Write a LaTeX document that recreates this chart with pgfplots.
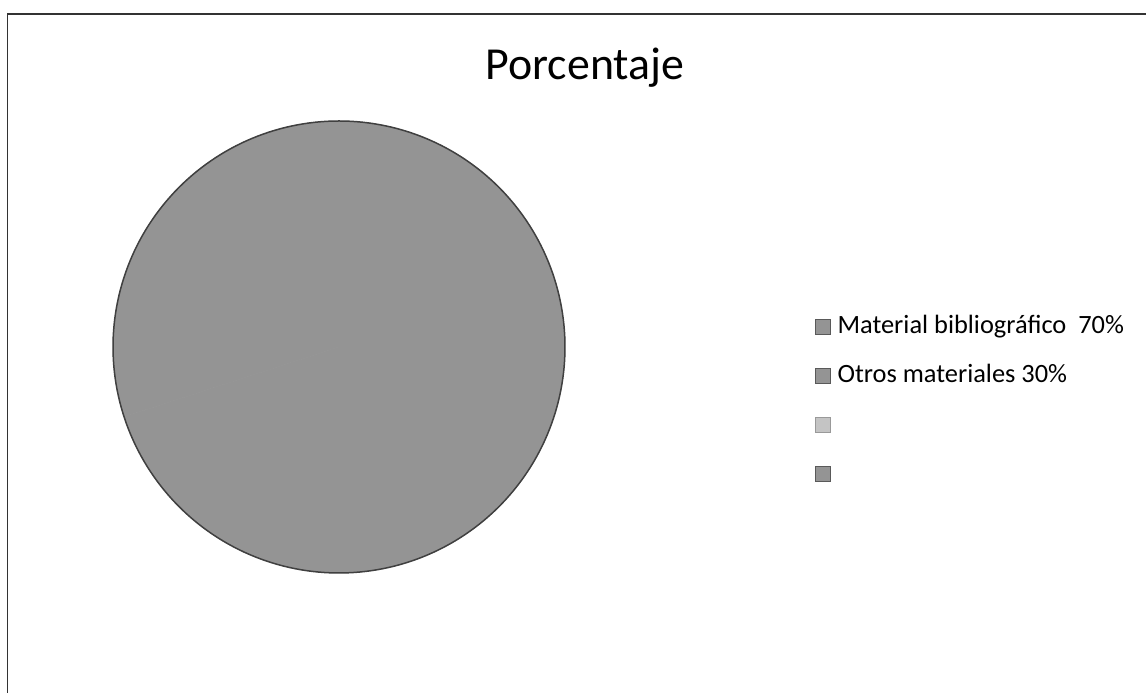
\documentclass[border=0pt]{standalone}
\usepackage{fontspec}
\setmainfont{Carlito}
\usepackage{pgfplots}
\usepackage{pgfplotstable}
\pgfplotsset{compat=1.18}
\definecolor{piegray}{RGB}{148,148,148}
\pgfplotstableread{
value
70
30
}\piedata
\begin{document}
\pgfplotstablegetelem{0}{value}\of\piedata\edef\va{\pgfplotsretval}%
\pgfplotstablegetelem{1}{value}\of\piedata\edef\vb{\pgfplotsretval}%
\pgfmathsetmacro\aA{90-3.6*\va}%
\pgfmathsetmacro\aB{\aA-3.6*\vb}%
\begin{tikzpicture}[x=1bp,y=1bp]
\useasboundingbox (0,0) rectangle (1146,693);
\fill[white] (0,0) rectangle (1146,693);
\draw[line width=1.5bp, black!80] (7.5,0) -- (7.5,679) -- (1146,679);
\node[font=\fontsize{46}{50}\selectfont, anchor=base, inner sep=0pt] at (585,613) {Porcentaje};
\begin{axis}[at={(339bp,346bp)}, anchor=center, scale only axis, width=452bp, height=452bp,
  xmin=-1, xmax=1, ymin=-1, ymax=1, hide axis, clip=false,
  legend style={at={(1.553,0.575)}, anchor=north west, draw=none, fill=none, inner sep=0pt,
    font=\fontsize{26.5}{31}\selectfont, row sep=23bp, cells={anchor=west},
    nodes={inner sep=0pt, text height=20bp, text depth=6bp}},
  legend cell align=left]
\addplot[fill=piegray, draw=piegray, line width=0.5bp, domain=\aA:90, samples=150, forget plot] ({cos(x)},{sin(x)}) -- (axis cs:0,0) -- cycle;
\addplot[fill=piegray, draw=piegray, line width=0.5bp, domain=\aB:\aA, samples=80, forget plot] ({cos(x)},{sin(x)}) -- (axis cs:0,0) -- cycle;
\addplot[draw=black!75, line width=1.5bp, domain=\aB:90, samples=240, forget plot] ({cos(x)},{sin(x)});
\addlegendimage{legend image code/.code={\fill[piegray, draw=black!65] (0bp,-8bp) rectangle (15bp,7bp);}}
\addlegendentry{\hspace{7bp}Material bibliográfico\ \ 70\%}
\addlegendimage{legend image code/.code={\fill[piegray, draw=black!65] (0bp,-8bp) rectangle (15bp,7bp);}}
\addlegendentry{\hspace{7bp}Otros materiales 30\%}
\addlegendimage{legend image code/.code={\fill[piegray!55, draw=black!40] (0bp,-8bp) rectangle (15bp,7bp);}}
\addlegendentry{}
\addlegendimage{legend image code/.code={\fill[piegray, draw=black!65] (0bp,-8bp) rectangle (15bp,7bp);}}
\addlegendentry{}
\end{axis}
\end{tikzpicture}
\end{document}
